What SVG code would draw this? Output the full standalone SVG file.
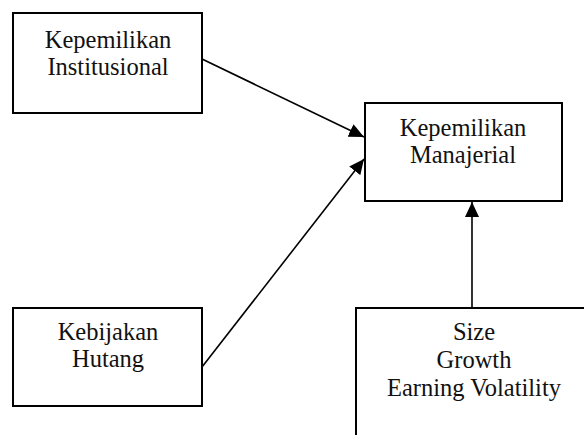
<svg xmlns="http://www.w3.org/2000/svg" width="584" height="435" viewBox="0 0 584 435">
<style>
.box{fill:#fff;stroke:#000;stroke-width:2}
text{font-family:'Liberation Serif','Times New Roman',serif;font-size:24.5px;fill:#111;text-anchor:middle}
.c{stroke:#000;stroke-width:1.6;fill:none}
</style>
<defs>
<marker id="ah" markerUnits="userSpaceOnUse" markerWidth="16" markerHeight="14" refX="15" refY="7" orient="auto">
<path d="M0,0 L15,7 L0,14 Z" fill="#000"/>
</marker>
</defs>
<rect width="584" height="435" fill="#fff"/>
<g id="inst">
<rect class="box" x="13" y="13" width="189" height="100"/>
<text x="108" y="48">Kepemilikan</text>
<text x="108" y="75">Institusional</text>
</g>
<g id="manaj">
<rect class="box" x="365" y="103" width="197" height="98"/>
<text x="463" y="136">Kepemilikan</text>
<text x="463" y="163">Manajerial</text>
</g>
<g id="hutang">
<rect class="box" x="13" y="308" width="189" height="98"/>
<text x="108" y="340">Kebijakan</text>
<text x="108" y="367">Hutang</text>
</g>
<g id="size">
<rect class="box" x="356" y="308" width="240" height="140"/>
<text x="474" y="340">Size</text>
<text x="474" y="368">Growth</text>
<text x="474" y="396">Earning Volatility</text>
</g>
<g id="connectors">
<line class="c" x1="202" y1="59" x2="364" y2="137" marker-end="url(#ah)"/>
<line class="c" x1="202" y1="367" x2="364" y2="159" marker-end="url(#ah)"/>
<line class="c" x1="472" y1="308" x2="472" y2="202" marker-end="url(#ah)"/>
</g>
</svg>
